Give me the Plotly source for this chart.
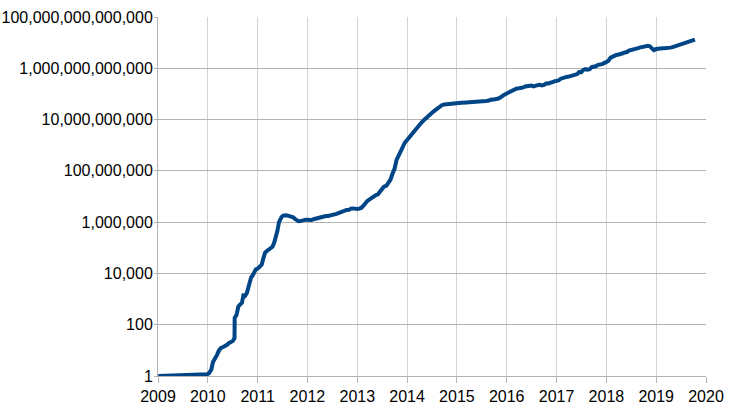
import plotly.graph_objects as go

# Bitcoin network difficulty over time
dates = [
    "2009-01-03", "2009-12-30",
    # 2010
    "2010-01-11", "2010-01-27", "2010-02-08", "2010-02-22", "2010-03-09", "2010-03-24",
    "2010-04-08", "2010-04-24", "2010-05-08", "2010-05-22", "2010-06-06", "2010-06-20",
    "2010-07-03", "2010-07-16", "2010-07-17", "2010-07-31", "2010-08-13", "2010-08-27",
    "2010-09-08", "2010-09-19", "2010-10-01", "2010-10-14", "2010-10-24", "2010-11-04",
    "2010-11-14", "2010-11-24", "2010-12-08", "2010-12-19",
    # 2011
    "2011-01-02", "2011-01-16", "2011-01-31", "2011-02-13", "2011-02-25", "2011-03-10",
    "2011-03-24", "2011-04-07", "2011-04-20", "2011-05-03", "2011-05-14", "2011-05-26",
    "2011-06-07", "2011-06-16", "2011-06-26", "2011-07-07", "2011-07-18", "2011-07-30",
    "2011-08-10", "2011-08-23", "2011-09-05", "2011-09-19", "2011-10-01", "2011-10-14",
    "2011-10-27", "2011-11-10", "2011-11-24", "2011-12-07", "2011-12-20",
]
for yr in range(2012, 2019):
    for mo in range(1, 13):
        dates.append(f"{yr}-{mo:02d}-01")
        dates.append(f"{yr}-{mo:02d}-15")
dates += [
    "2019-01-01", "2019-01-15", "2019-02-01", "2019-02-15", "2019-03-01", "2019-03-15",
    "2019-04-01", "2019-04-15", "2019-05-01", "2019-05-15", "2019-06-01", "2019-06-15",
    "2019-07-01", "2019-07-15", "2019-08-01", "2019-08-15", "2019-09-01", "2019-09-15",
    "2019-10-01", "2019-10-12",
]

diff_2009 = [1, 1.18]
diff_2010 = [1.31, 1.8, 3.5, 4.5, 6.5, 10.0,
             12.5, 13.5, 14.5, 16.5, 19.4, 21.0,
             23.0, 30.0, 181.54, 244.2, 512.9, 620.0,
             712.9, 1379, 1318, 1690, 2758, 4536,
             6866, 8078, 12252, 14484]
diff_2011 = [15392, 19000, 22000, 40000, 65000, 75000,
             85000, 95000, 110000, 160000, 250000, 450000,
             1000000, 1400000, 1600000, 1800000, 1900000, 1850000,
             1800000, 1750000, 1700000, 1550000, 1350000, 1150000,
             1080000, 1100000, 1103400, 1192497, 1250757]
diff_2012 = [1.250e6, 1.160e6, 1.203e6, 1.300e6, 1.376e6, 1.400e6,
             1.497e6, 1.583e6, 1.627e6, 1.727e6, 1.733e6, 1.778e6,
             1.867e6, 1.864e6, 2.087e6, 2.236e6, 2.441e6, 2.694e6,
             2.864e6, 2.988e6, 3.004e6, 3.371e6, 3.439e6, 3.304e6]
diff_2013 = [3.275e6, 3.369e6, 3.651e6, 4.368e6, 5.500e6, 6.696e6,
             7.673e6, 8.974e6, 10.08e6, 11.19e6, 12.15e6, 15.61e6,
             19.34e6, 24.00e6, 26.16e6, 33.00e6, 45.00e6, 75.00e6,
             120.0e6, 260.0e6, 420.0e6, 650.0e6, 900.0e6, 1.250e9]
diff_2014 = [1.600e9, 2.000e9, 2.600e9, 3.100e9, 3.800e9, 4.700e9,
             6.000e9, 7.500e9, 9.200e9, 11.00e9, 13.00e9, 15.00e9,
             18.00e9, 21.00e9, 25.00e9, 30.00e9, 35.00e9, 37.00e9,
             39.00e9, 40.00e9, 41.00e9, 43.00e9, 44.00e9, 45.00e9]
diff_2015 = [44.00e9, 44.46e9, 45.00e9, 46.68e9, 47.59e9, 46.72e9,
             47.43e9, 47.61e9, 47.14e9, 49.40e9, 47.74e9, 48.81e9,
             49.69e9, 52.28e9, 52.70e9, 54.26e9, 59.34e9, 60.81e9,
             60.88e9, 62.25e9, 65.85e9, 72.72e9, 79.10e9, 93.45e9]
diff_2016 = [103.9e9, 113.4e9, 120.0e9, 144.1e9, 158.4e9, 163.5e9,
             165.5e9, 166.9e9, 178.7e9, 194.3e9, 199.3e9, 209.5e9,
             213.5e9, 196.1e9, 213.4e9, 220.8e9, 225.8e9, 213.5e9,
             225.8e9, 253.6e9, 254.6e9, 281.8e9, 286.8e9, 310.2e9]
diff_2017 = [317.7e9, 336.9e9, 393.0e9, 422.2e9, 440.8e9, 460.8e9,
             475.7e9, 499.6e9, 522.0e9, 560.0e9, 595.9e9, 711.7e9,
             708.7e9, 860.2e9, 923.2e9, 888.2e9, 922.7e9, 1103.4e9,
             1123.9e9, 1196.8e9, 1364.4e9, 1347.0e9, 1452.8e9, 1590.9e9]
diff_2018 = [1873.1e9, 1931.1e9, 2603.1e9, 2874.7e9, 3007.4e9, 3290.6e9,
             3462.5e9, 3511.1e9, 3839.3e9, 4143.9e9, 4306.9e9, 4940.7e9,
             5077.5e9, 5178.7e9, 5363.6e9, 5949.4e9, 6389.3e9, 6727.2e9,
             7152.6e9, 7184.4e9, 7455.0e9, 7182.9e9, 5646.4e9, 5106.4e9]
diff_2019 = [5618.6e9, 5884.0e9, 5814.7e9, 6061.5e9, 6068.9e9, 6071.8e9,
             6379.3e9, 6393.0e9, 6704.6e9, 7064.1e9, 7459.7e9, 7934.7e9,
             9064.2e9, 9013.8e9, 9985.3e9, 10183.5e9, 10772.0e9, 11890.6e9,
             12759.8e9, 13008.1e9]

difficulty = (diff_2009 + diff_2010 + diff_2011 + diff_2012 + diff_2013 + diff_2014
              + diff_2015 + diff_2016 + diff_2017 + diff_2018 + diff_2019)

y_tick_vals = [1e0, 1e2, 1e4, 1e6, 1e8, 1e10, 1e12, 1e14]
y_tick_text = ["1", "100", "10,000", "1,000,000", "100,000,000", "10,000,000,000",
               "1,000,000,000,000", "100,000,000,000,000"]
x_years = [str(y) for y in range(2009, 2021)]

n = min(len(dates), len(difficulty))

fig = go.Figure()
fig.add_trace(go.Scatter(
    x=dates[:n], y=difficulty[:n], mode="lines",
    line=dict(color="#004586", width=4),
    showlegend=False, hoverinfo="x+y",
))

font = dict(family="Liberation Sans, Arial, sans-serif", size=16, color="#000000")

fig.update_layout(
    width=736, height=414,
    margin=dict(l=158, r=30, t=17, b=38),
    paper_bgcolor="white", plot_bgcolor="white",
    font=font,
    xaxis=dict(
        type="date",
        range=["2009-01-01", "2020-01-01"],
        tickvals=[f"{y}-01-01" for y in x_years],
        ticktext=x_years,
        showgrid=True, gridcolor="#d4d4d4", gridwidth=1,
        showline=True, linecolor="#b3b3b3", linewidth=1,
        ticks="outside", ticklen=6, tickcolor="#b3b3b3",
        zeroline=False, tickfont=font, automargin=False,
        ticklabelstandoff=0,
    ),
    yaxis=dict(
        type="log",
        range=[0, 14],
        tickvals=y_tick_vals,
        ticktext=y_tick_text,
        showgrid=True, gridcolor="#b3b3b3", gridwidth=1,
        showline=True, linecolor="#b3b3b3", linewidth=1,
        ticks="outside", ticklen=3, tickcolor="#b3b3b3",
        zeroline=False, tickfont=font, automargin=False,
        ticklabelstandoff=-2,
    ),
)

fig.write_html("out.html")
